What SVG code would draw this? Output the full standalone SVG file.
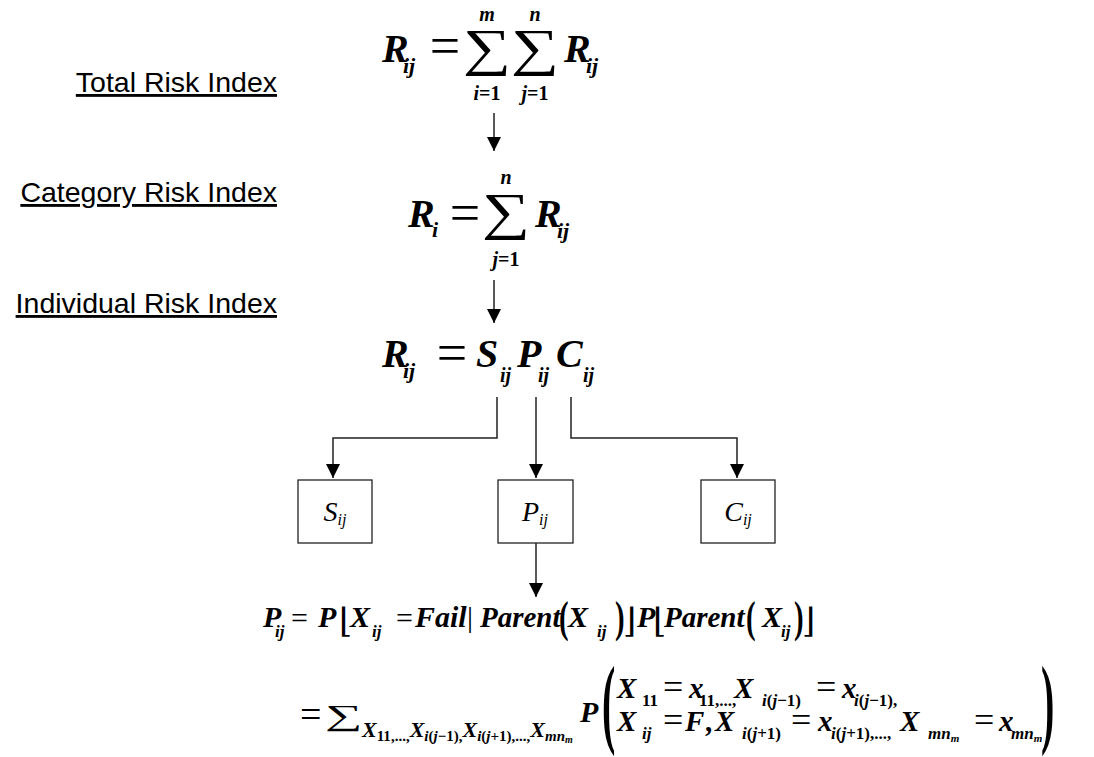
<svg xmlns="http://www.w3.org/2000/svg" width="1094" height="757" viewBox="0 0 1094 757">
<style>
.lbl{font-family:"Liberation Sans",Arial,sans-serif;font-size:28.5px;text-anchor:end;text-decoration:underline;fill:#000}
.m{font-family:"Liberation Serif","Times New Roman",serif;font-weight:bold;font-style:italic;fill:#000}
.u{font-style:normal}
.op{font-family:"Liberation Serif","DejaVu Serif",serif;font-weight:normal;font-style:normal}
.ob{font-family:"Liberation Serif","DejaVu Serif",serif;font-weight:bold;font-style:normal}
.br{font-family:"DejaVu Serif","Liberation Serif",serif;font-weight:normal;font-style:normal}
.bx{font-family:"Liberation Serif","Times New Roman",serif;font-style:italic;fill:#000}
.box{fill:#fff;stroke:#222;stroke-width:1.3}
.c{fill:none;stroke:#222;stroke-width:1.5}
</style>
<defs>
<marker id="ah" viewBox="0 0 10 10" refX="10" refY="5" markerWidth="14" markerHeight="14" markerUnits="userSpaceOnUse" orient="auto">
<path d="M0,0 L10,5 L0,10 z" fill="#000"/>
</marker>
</defs>
<rect width="1094" height="757" fill="#fff"/>

<g id="label-total"><text class="lbl" x="277" y="92">Total Risk Index</text></g>
<g id="label-category"><text class="lbl" x="277" y="202">Category Risk Index</text></g>
<g id="label-individual"><text class="lbl" x="277" y="313">Individual Risk Index</text></g>

<g id="formula-total" class="m">
<text x="382" y="62" font-size="40">R</text>
<text x="403" y="73" font-size="22">ij</text>
<text x="445" y="64" font-size="54" class="op" text-anchor="middle">=</text>
<text transform="translate(487,65) scale(1.3,1)" font-size="52" class="op" text-anchor="middle">∑</text>
<text transform="translate(535,65) scale(1.3,1)" font-size="52" class="op" text-anchor="middle">∑</text>
<text x="487" y="21" font-size="20" text-anchor="middle">m</text>
<text x="535" y="21" font-size="20" text-anchor="middle">n</text>
<text x="487" y="100" font-size="20" text-anchor="middle">i<tspan class="u">=1</tspan></text>
<text x="535" y="100" font-size="20" text-anchor="middle">j<tspan class="u">=1</tspan></text>
<text x="564" y="62" font-size="40">R</text>
<text x="586" y="73" font-size="22">ij</text>
</g>

<g id="formula-category" class="m">
<text x="408" y="227" font-size="40">R</text>
<text x="432" y="237" font-size="22">i</text>
<text x="465" y="231" font-size="54" class="op" text-anchor="middle">=</text>
<text transform="translate(506,229) scale(1.3,1)" font-size="52" class="op" text-anchor="middle">∑</text>
<text x="506" y="184" font-size="20" text-anchor="middle">n</text>
<text x="506" y="266" font-size="20" text-anchor="middle">j<tspan class="u">=1</tspan></text>
<text x="535" y="227" font-size="40">R</text>
<text x="557" y="238" font-size="22">ij</text>
</g>

<g id="formula-individual" class="m">
<text x="382" y="367" font-size="40">R</text>
<text x="403" y="378" font-size="22">ij</text>
<text x="452" y="371" font-size="54" class="op" text-anchor="middle">=</text>
<text x="476" y="367" font-size="40">S</text>
<text x="500" y="382" font-size="20">ij</text>
<text x="517" y="367" font-size="40">P</text>
<text x="538" y="382" font-size="20">ij</text>
<text x="556" y="367" font-size="40">C</text>
<text x="583" y="382" font-size="20">ij</text>
</g>

<g id="node-S">
<rect class="box" x="298" y="480" width="74" height="63"/>
<text class="bx" x="335" y="521" font-size="28" text-anchor="middle">S<tspan font-size="16" dy="4">ij</tspan></text>
</g>
<g id="node-P">
<rect class="box" x="498" y="480" width="75" height="63"/>
<text class="bx" x="535" y="521" font-size="28" text-anchor="middle">P<tspan font-size="16" dy="4">ij</tspan></text>
</g>
<g id="node-C">
<rect class="box" x="701" y="480" width="74" height="63"/>
<text class="bx" x="738" y="521" font-size="28" text-anchor="middle">C<tspan font-size="16" dy="4">ij</tspan></text>
</g>

<g id="formula-P" class="m">
<!-- line 1 -->
<text y="627" font-size="30">
<tspan x="263">P</tspan>
<tspan x="318">P</tspan>
<tspan x="350">X</tspan>
<tspan x="415">Fail</tspan>
<tspan x="568">X</tspan>
<tspan x="637">P</tspan>
<tspan x="762">X</tspan>
</text>
<text y="627" font-size="29"><tspan x="480">Parent</tspan><tspan x="664">Parent</tspan></text>
<text y="628" font-size="30" class="op"><tspan x="291">=</tspan><tspan x="396">=</tspan></text>
<text x="467" y="627" font-size="30" class="op">|</text>
<text y="637" font-size="17"><tspan x="275">ij</tspan><tspan x="372">ij</tspan><tspan x="597">ij</tspan><tspan x="781">ij</tspan></text>
<text y="632" font-size="34" class="br"><tspan x="339">⌊</tspan><tspan x="623">⌋</tspan><tspan x="653">⌊</tspan><tspan x="802">⌋</tspan></text>
<text transform="translate(559,632) scale(0.8,1.25)" font-size="36" class="ob">(</text>
<text transform="translate(615,632) scale(0.8,1.25)" font-size="36" class="ob">)</text>
<text transform="translate(746,632) scale(0.8,1.25)" font-size="36" class="ob">(</text>
<text transform="translate(794,632) scale(0.8,1.25)" font-size="36" class="ob">)</text>

<!-- line 2 -->
<text x="300" y="727" font-size="38" class="op">=</text>
<text transform="translate(344,725) scale(1.8,1)" font-size="29" class="op" text-anchor="middle">∑</text>
<text y="737" font-size="22"><tspan x="362">X</tspan><tspan font-size="15" dy="4" class="u">11</tspan><tspan font-size="15" class="u">,...,</tspan><tspan dy="-4">X</tspan><tspan font-size="15" dy="4">i<tspan class="u">(</tspan>j<tspan class="u">−1),</tspan></tspan><tspan dy="-4">X</tspan><tspan font-size="15" dy="4">i<tspan class="u">(</tspan>j<tspan class="u">+1)</tspan></tspan><tspan font-size="15" class="u">,...,</tspan><tspan dy="-4">X</tspan><tspan font-size="15" dy="4">mn<tspan font-size="10" dy="2">m</tspan></tspan></text>
<text x="580" y="722" font-size="30">P</text>
<text transform="translate(602,735) scale(1,2.5)" font-size="40" class="ob">(</text>
<text transform="translate(1041,735) scale(1,2.5)" font-size="40" class="ob">)</text>

<!-- row 1 -->
<text y="698" font-size="29"><tspan x="617">X</tspan><tspan x="689">x</tspan><tspan x="734">X</tspan><tspan x="842">x</tspan></text>
<text y="699" font-size="36" class="op"><tspan x="663">=</tspan><tspan x="816">=</tspan></text>
<text y="706" font-size="17"><tspan x="642" class="u">11</tspan><tspan x="699" class="u">11,...,</tspan><tspan x="762">i<tspan class="u">(</tspan>j<tspan class="u">−1)</tspan></tspan><tspan x="854">i<tspan class="u">(</tspan>j<tspan class="u">−1),</tspan></tspan></text>

<!-- row 2 -->
<text y="731" font-size="29"><tspan x="617">X</tspan><tspan x="685">F</tspan><tspan x="705" class="u">,</tspan><tspan x="715">X</tspan><tspan x="818">x</tspan><tspan x="900">X</tspan><tspan x="999">x</tspan></text>
<text y="732" font-size="36" class="op"><tspan x="663">=</tspan><tspan x="791">=</tspan><tspan x="974">=</tspan></text>
<text y="739" font-size="17"><tspan x="642">ij</tspan><tspan x="742">i<tspan class="u">(</tspan>j<tspan class="u">+1)</tspan></tspan><tspan x="831">i<tspan class="u">(</tspan>j<tspan class="u">+1),...,</tspan></tspan><tspan x="928">mn<tspan font-size="11" dy="3">m</tspan></tspan><tspan x="1011" dy="-3">mn<tspan font-size="11" dy="3">m</tspan></tspan></text>
</g>

<g id="connectors">
<line class="c" x1="494" y1="113" x2="494" y2="151" marker-end="url(#ah)"/>
<line class="c" x1="494" y1="280" x2="494" y2="323" marker-end="url(#ah)" stroke="#666"/>
<path class="c" d="M497,397 V438 H333 V478" marker-end="url(#ah)"/>
<path class="c" d="M536,397 V478" marker-end="url(#ah)"/>
<path class="c" d="M571,397 V438 H737 V478" marker-end="url(#ah)"/>
<path class="c" d="M536,543 V597" marker-end="url(#ah)" stroke="#666"/>
</g>
</svg>
